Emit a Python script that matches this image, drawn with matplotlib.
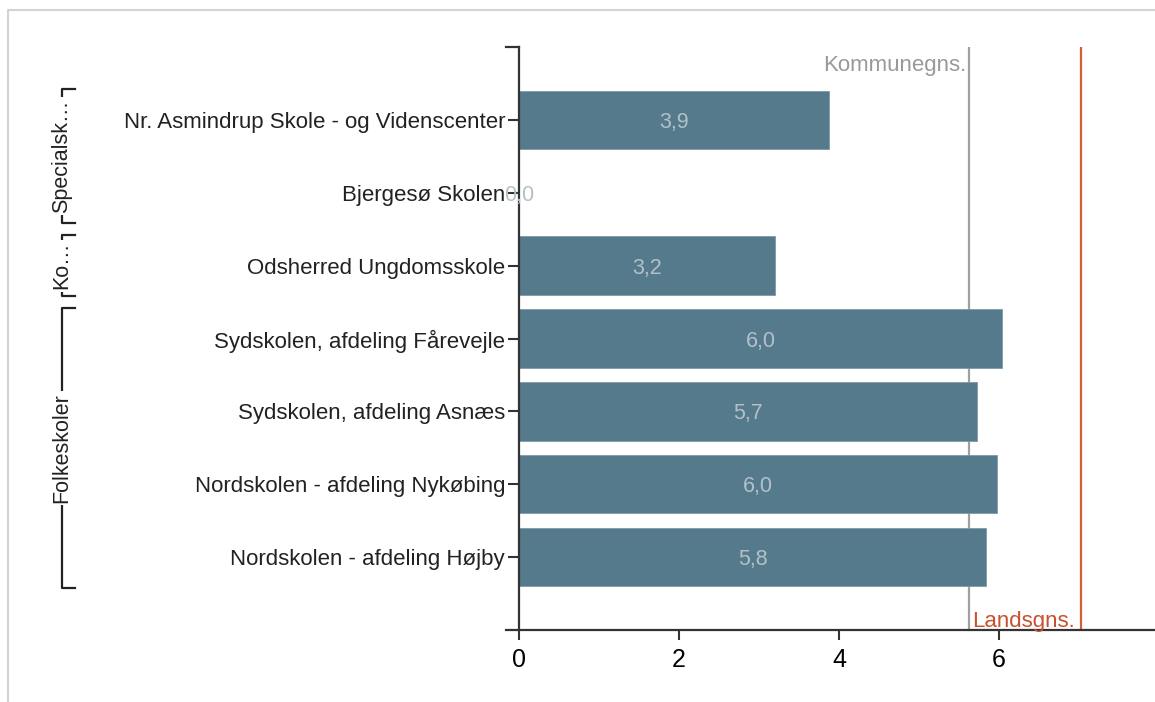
import numpy as np
import matplotlib
matplotlib.use("Agg")
import matplotlib.pyplot as plt
from matplotlib.lines import Line2D
from matplotlib.transforms import blended_transform_factory

plt.rcParams['font.family'] = ['Liberation Sans', 'DejaVu Sans']

# data
schools = ['Nr. Asmindrup Skole - og Videnscenter', 'Bjergesø Skolen',
           'Odsherred Ungdomsskole', 'Sydskolen, afdeling Fårevejle',
           'Sydskolen, afdeling Asnæs', 'Nordskolen - afdeling Nykøbing',
           'Nordskolen - afdeling Højby']
values = [3.87, 0.0, 3.2, 6.04, 5.72, 5.98, 5.84]
groups = ['Specialsk…', 'Ko…', 'Folkeskoler']
group_sizes = [2, 1, 4]
kommune_avg = 5.62
lands_avg = 7.02
xticks = [0, 2, 4, 6]

W, H = 1155, 702
fig = plt.figure(figsize=(W / 100, H / 100), dpi=100)

# light frame (left and top edges only)
fig.lines.append(Line2D([8 / W, 8 / W, 1], [0, 1 - 10 / H, 1 - 10 / H],
                        transform=fig.transFigure, color='#d3d3d3', lw=1.5))

ax = fig.add_axes([519 / W, 1 - 630 / H, (W - 519) / W, (630 - 47) / H])

y = np.arange(len(schools))
bar_col = '#547a8c'
ax.barh(y, values, height=0.8, color=bar_col, edgecolor='#7f9aa8', lw=0.6, zorder=2)
for yi, v in zip(y, values):
    ax.text(v / 2, yi, f'{v:.1f}'.replace('.', ','), ha='center',
            va='center_baseline', color='#b4c0c7', fontsize=15.5, zorder=3)

ax.axvline(kommune_avg, color='#a0a0a0', lw=1.6, zorder=1)
ax.axvline(lands_avg, color='#d4602f', lw=1.6, zorder=1)
ax.text(kommune_avg - 0.03, -0.74, 'Kommunegns.', ha='right', va='center',
        color='#999999', fontsize=16)
ax.text(kommune_avg + 0.04, 6.88, 'Landsgns.', ha='left', va='center',
        color='#c8502d', fontsize=16)

ax.set_xlim(0, (W - 519) / 80)
ax.set_ylim(7, -1)
ax.set_yticks(y)
ax.set_yticklabels(schools, fontsize=16, color='#222222')
ax.set_xticks(xticks)
ax.set_xticklabels([str(t) for t in xticks], fontsize=18,
                   family=['Liberation Sans Narrow', 'Liberation Sans'])
ax.tick_params(axis='y', length=8, width=1.5, color='#333333', pad=2)
ax.tick_params(axis='x', length=7, width=1.5, color='#333333', pad=6)
for s in ['top', 'right']:
    ax.spines[s].set_visible(False)
for s in ['left', 'bottom']:
    ax.spines[s].set_linewidth(1.6)
    ax.spines[s].set_color('#333333')

# outer ticks of the y axis
tr = blended_transform_factory(fig.transFigure, ax.transData)
for yy in (-1, 7):
    ax.plot([506 / W, 519 / W], [yy, yy], transform=tr, color='#333333',
            lw=1.6, clip_on=False)

# group brackets on the left
xl, xt = 62 / W, 75 / W
start = 0
for g, n in zip(groups, group_sizes):
    top, bot = start - 0.5 + 0.08, start + n - 0.5 - 0.08
    ax.plot([xt, xl, xl, xt], [top, top, bot, bot], transform=tr,
            color='#222222', lw=1.6, clip_on=False)
    ax.text(xl, (top + bot) / 2, g, transform=tr, rotation=90, ha='center',
            va='center', fontsize=15.5, color='#222222',
            bbox=dict(facecolor='white', edgecolor='none', pad=1.5))
    start += n

fig.savefig('out.png', dpi=100)
